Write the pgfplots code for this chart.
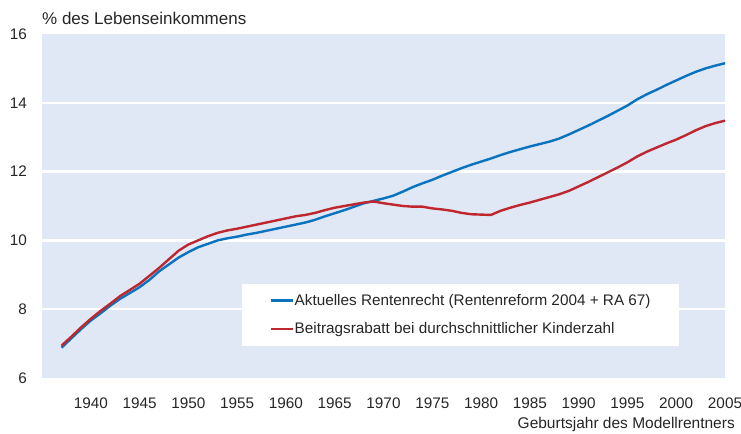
\documentclass[border=0pt]{standalone}
\usepackage{fontspec}
\setmainfont{Liberation Sans}
\usepackage{pgfplots}
\pgfplotsset{compat=1.18}
\definecolor{bgblue}{HTML}{DFE8F4}
\definecolor{lineblue}{HTML}{0A72BE}
\definecolor{linered}{HTML}{C0262E}
\begin{document}
\begin{tikzpicture}
\useasboundingbox (-42bp,-56bp) rectangle (699bp,378bp);
\begin{axis}[
  at={(0,0)}, anchor=south west,
  scale only axis, width=683bp, height=344bp,
  xmin=1935, xmax=2005, ymin=6, ymax=16,
  axis background/.style={fill=bgblue},
  axis line style={draw=none},
  major tick length=0pt,
  xtick={1940,1945,...,2005},
  ytick={6,8,...,16},
  extra y ticks={8,10,12,14},
  extra y tick labels={},
  extra y tick style={grid=major, major grid style={white, line width=2.5bp}},
  /pgf/number format/assume math mode=true,
  /pgf/number format/1000 sep={},
  tick label style={font=\fontsize{15.3bp}{17bp}\selectfont, text=black!85},
  yticklabel style={anchor=east, inner sep=0pt, xshift=-15bp},
  xticklabel style={anchor=base, inner sep=0pt, yshift=-30bp},
  legend style={at={(rel axis cs:0.293,0.093)}, anchor=south west, draw=none, fill=white,
    font=\fontsize{15.3bp}{17bp}\selectfont, inner xsep=27bp, inner ysep=8.5bp,
    row sep=12bp, nodes={inner xsep=1bp, text=black!85}},
  legend cell align=left,
  legend image code/.code={\draw[#1] (0bp,0bp) -- (22bp,0bp);},
  clip=false,
]
\addplot[lineblue, line width=2.4bp] table {
1937 6.88
1938 7.15
1939 7.42
1940 7.67
1941 7.88
1942 8.10
1943 8.30
1944 8.47
1945 8.64
1946 8.85
1947 9.10
1948 9.30
1949 9.50
1950 9.66
1951 9.80
1952 9.90
1953 10.00
1954 10.06
1955 10.11
1956 10.17
1957 10.22
1958 10.28
1959 10.34
1960 10.40
1961 10.46
1962 10.52
1963 10.60
1964 10.70
1965 10.79
1966 10.88
1967 10.98
1968 11.08
1969 11.15
1970 11.22
1971 11.30
1972 11.42
1973 11.55
1974 11.66
1975 11.76
1976 11.88
1977 11.99
1978 12.10
1979 12.20
1980 12.29
1981 12.38
1982 12.48
1983 12.57
1984 12.65
1985 12.73
1986 12.80
1987 12.87
1988 12.96
1989 13.08
1990 13.21
1991 13.34
1992 13.48
1993 13.62
1994 13.77
1995 13.92
1996 14.10
1997 14.25
1998 14.38
1999 14.52
2000 14.65
2001 14.78
2002 14.90
2003 15.00
2004 15.08
2005 15.15
};
\addlegendentry{Aktuelles Rentenrecht (Rentenreform 2004 + RA 67)}
\addplot[linered, line width=2.4bp] table {
1937 6.94
1938 7.20
1939 7.47
1940 7.72
1941 7.95
1942 8.16
1943 8.38
1944 8.56
1945 8.74
1946 8.97
1947 9.20
1948 9.45
1949 9.70
1950 9.88
1951 10.00
1952 10.12
1953 10.22
1954 10.29
1955 10.34
1956 10.40
1957 10.46
1958 10.52
1959 10.58
1960 10.64
1961 10.70
1962 10.74
1963 10.80
1964 10.88
1965 10.95
1966 11.00
1967 11.05
1968 11.10
1969 11.13
1970 11.08
1971 11.04
1972 11.00
1973 10.98
1974 10.98
1975 10.93
1976 10.90
1977 10.86
1978 10.80
1979 10.76
1980 10.75
1981 10.74
1982 10.86
1983 10.95
1984 11.03
1985 11.10
1986 11.18
1987 11.26
1988 11.34
1989 11.44
1990 11.57
1991 11.70
1992 11.84
1993 11.98
1994 12.12
1995 12.27
1996 12.44
1997 12.58
1998 12.70
1999 12.82
2000 12.93
2001 13.06
2002 13.20
2003 13.32
2004 13.41
2005 13.48
};
\addlegendentry{Beitragsrabatt bei durchschnittlicher Kinderzahl}
\node[anchor=base west, inner sep=0pt, font=\fontsize{17bp}{19bp}\selectfont, text=black!85] at (rel axis cs:0,1) [yshift=9bp] {\% des Lebenseinkommens};
\node[anchor=base east, inner sep=0pt, font=\fontsize{15.5bp}{17bp}\selectfont, text=black!85] at (rel axis cs:1,0) [yshift=-50bp, xshift=10bp] {Geburtsjahr des Modellrentners};
\end{axis}
\end{tikzpicture}
\end{document}
